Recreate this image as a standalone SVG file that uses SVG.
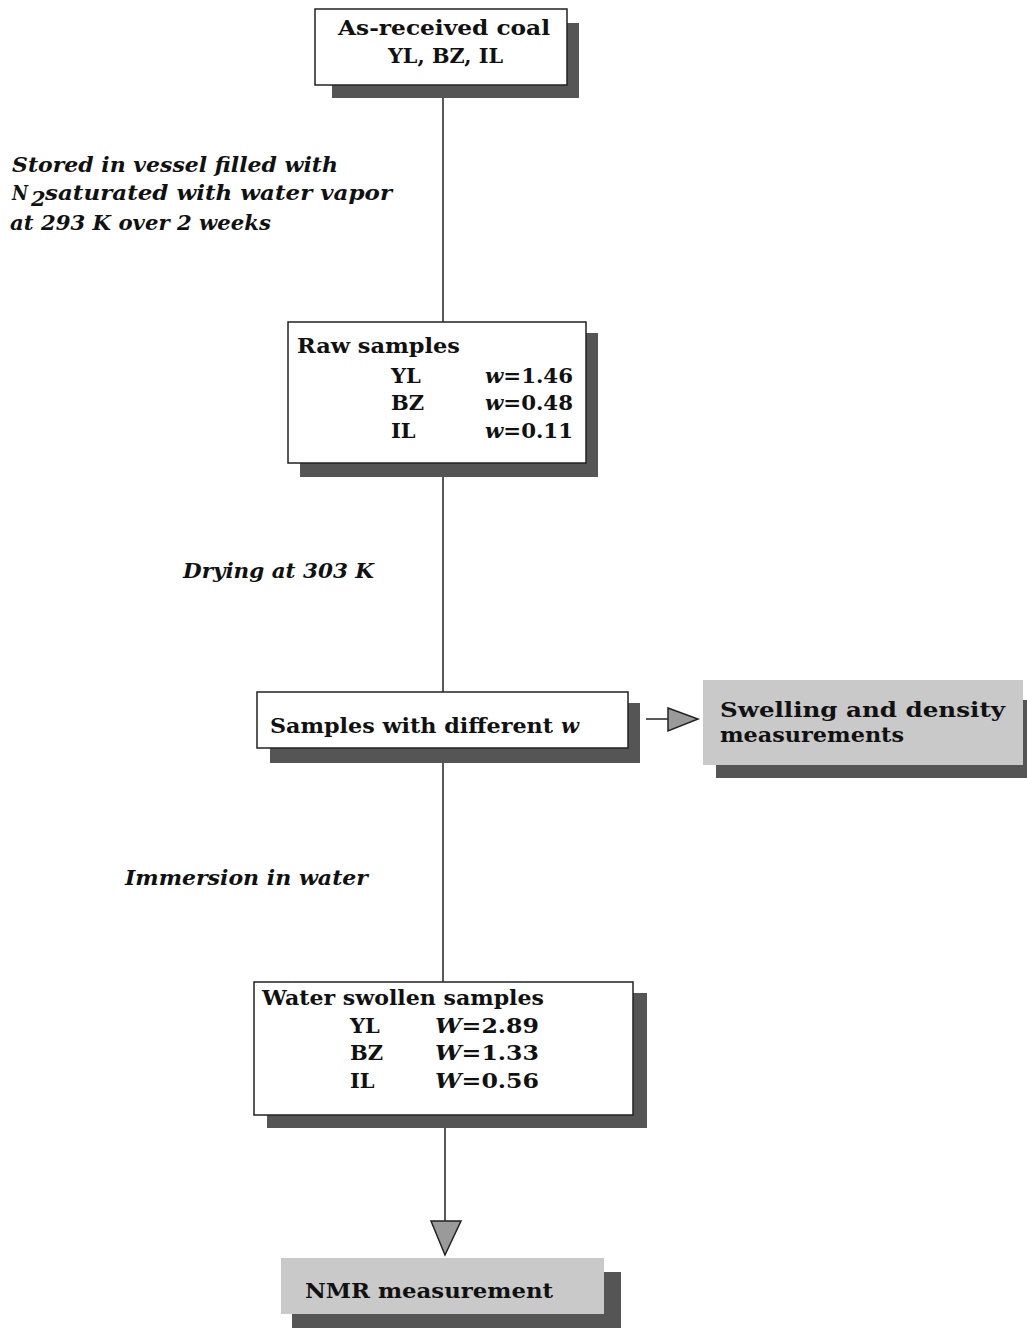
<svg xmlns="http://www.w3.org/2000/svg" width="1027" height="1331" viewBox="0 0 1027 1331">
<style>
.box{fill:#fff;stroke:#222;stroke-width:1.5}
.gbox{fill:#c9c9c9;stroke:none}
.sh{fill:#555}
.t{font-family:"DejaVu Serif","Liberation Serif",serif;font-weight:bold;font-size:21px;fill:#111}
.it{font-style:italic}
.ln{stroke:#222;stroke-width:1.5;fill:none}
.ah{fill:#9a9a9a;stroke:#222;stroke-width:1.5}
</style>
<rect width="1027" height="1331" fill="#fff"/>
<g id="connectors">
<line class="ln" x1="443" y1="98" x2="443" y2="322"/>
<line class="ln" x1="443" y1="477" x2="443" y2="692"/>
<line class="ln" x1="443" y1="763" x2="443" y2="982"/>
<line class="ln" x1="445" y1="1128" x2="445" y2="1222"/>
<polygon class="ah" points="431,1221 461,1221 445,1255"/>
<line class="ln" x1="646" y1="719" x2="668" y2="719"/>
<polygon class="ah" points="668,708 698,719 668,731"/>
</g>
<g id="labels">
<text class="t it" x="12" y="172" textLength="326" lengthAdjust="spacingAndGlyphs">Stored in vessel filled with</text>
<text class="t it" x="12" y="200" textLength="16" lengthAdjust="spacingAndGlyphs">N</text>
<text class="t it" x="31" y="206" font-size="15">2</text>
<text class="t it" x="45" y="200" textLength="347" lengthAdjust="spacingAndGlyphs">saturated with water vapor</text>
<text class="t it" x="10" y="230" textLength="261" lengthAdjust="spacingAndGlyphs">at 293 K over 2 weeks</text>
<text class="t it" x="183" y="578" textLength="191" lengthAdjust="spacingAndGlyphs">Drying at 303 K</text>
<text class="t it" x="125" y="885" textLength="243" lengthAdjust="spacingAndGlyphs">Immersion in water</text>
</g>
<g id="node-coal">
<polygon class="sh" points="567,23 579,23 579,98 332,98 332,85 567,85"/>
<rect class="box" x="315" y="9" width="252" height="76"/>
<text class="t" x="338" y="35" textLength="212" lengthAdjust="spacingAndGlyphs">As-received coal</text>
<text class="t" x="388" y="63" textLength="115" lengthAdjust="spacingAndGlyphs">YL, BZ, IL</text>
</g>
<g id="node-raw">
<polygon class="sh" points="586,333 598,333 598,477 300,477 300,463 586,463"/>
<rect class="box" x="288" y="322" width="298" height="141"/>
<text class="t" x="297" y="353" textLength="163" lengthAdjust="spacingAndGlyphs">Raw samples</text>
<text class="t" x="391" y="383">YL</text>
<text class="t" x="391" y="410">BZ</text>
<text class="t" x="391" y="438">IL</text>
<text class="t" x="485" y="383" textLength="88" lengthAdjust="spacingAndGlyphs"><tspan class="it">w</tspan>=1.46</text>
<text class="t" x="485" y="410" textLength="88" lengthAdjust="spacingAndGlyphs"><tspan class="it">w</tspan>=0.48</text>
<text class="t" x="485" y="438" textLength="88" lengthAdjust="spacingAndGlyphs"><tspan class="it">w</tspan>=0.11</text>
</g>
<g id="node-samples">
<polygon class="sh" points="628,703 640,703 640,763 270,763 270,748 628,748"/>
<rect class="box" x="257" y="692" width="371" height="56"/>
<text class="t" x="270" y="733" textLength="283" lengthAdjust="spacingAndGlyphs">Samples with different</text>
<text class="t it" x="561" y="733">w</text>
</g>
<g id="node-swelling">
<rect class="sh" x="716" y="700" width="311" height="78"/>
<rect class="gbox" x="703" y="680" width="320" height="85"/>
<text class="t" x="720" y="717" textLength="285" lengthAdjust="spacingAndGlyphs">Swelling and density</text>
<text class="t" x="720" y="742" textLength="184" lengthAdjust="spacingAndGlyphs">measurements</text>
</g>
<g id="node-water">
<polygon class="sh" points="633,993 647,993 647,1128 267,1128 267,1115 633,1115"/>
<rect class="box" x="254" y="982" width="379" height="133"/>
<text class="t" x="262" y="1005" textLength="282" lengthAdjust="spacingAndGlyphs">Water swollen samples</text>
<text class="t" x="350" y="1033">YL</text>
<text class="t" x="350" y="1060">BZ</text>
<text class="t" x="350" y="1088">IL</text>
<text class="t" x="435" y="1033" textLength="104" lengthAdjust="spacingAndGlyphs"><tspan class="it">W</tspan>=2.89</text>
<text class="t" x="435" y="1060" textLength="104" lengthAdjust="spacingAndGlyphs"><tspan class="it">W</tspan>=1.33</text>
<text class="t" x="435" y="1088" textLength="104" lengthAdjust="spacingAndGlyphs"><tspan class="it">W</tspan>=0.56</text>
</g>
<g id="node-nmr">
<rect class="sh" x="292" y="1272" width="329" height="56"/>
<rect class="gbox" x="281" y="1258" width="323" height="56"/>
<text class="t" x="305" y="1298" textLength="248" lengthAdjust="spacingAndGlyphs">NMR measurement</text>
</g>
</svg>
